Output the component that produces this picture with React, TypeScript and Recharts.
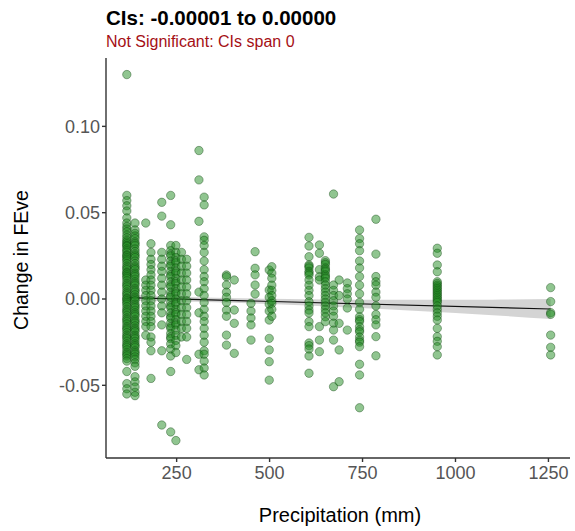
import React from 'react';
import { ComposedChart, Scatter, Line, Area, XAxis, YAxis } from 'recharts';

// precipitation sites (mm) and the FEve changes recorded at each
const col116 = [0.130, 0.060, 0.057, 0.054, 0.051, 0.047, 0.044, 0.042, 0.0405, 0.039, 0.037, 0.0355, 0.034, 0.033, 0.032, 0.031, 0.0305, 0.029, 0.028, 0.027, 0.0255, 0.025, 0.024, 0.023, 0.022, 0.0205, 0.019, 0.018, 0.017, 0.0155, 0.015, 0.014, 0.013, 0.012, 0.0105, 0.009, 0.008, 0.007, 0.0055, 0.004, 0.003, 0.002, 0.0005, 0.0, -0.001, -0.002, -0.003, -0.0045, -0.006, -0.007, -0.008, -0.0095, -0.011, -0.012, -0.013, -0.0145, -0.016, -0.017, -0.018, -0.0195, -0.021, -0.022, -0.023, -0.0245, -0.026, -0.027, -0.028, -0.0295, -0.031, -0.032, -0.033, -0.0345, -0.036, -0.042, -0.049, -0.052, -0.055];
const col138 = [0.044, 0.040, 0.038, 0.0365, 0.035, 0.033, 0.032, 0.031, 0.029, 0.0275, 0.026, 0.025, 0.024, 0.022, 0.0205, 0.019, 0.018, 0.017, 0.015, 0.014, 0.013, 0.0115, 0.010, 0.009, 0.008, 0.006, 0.005, 0.004, 0.0025, 0.001, 0.0, -0.001, -0.003, -0.004, -0.005, -0.0065, -0.008, -0.009, -0.010, -0.012, -0.013, -0.014, -0.0155, -0.017, -0.018, -0.019, -0.021, -0.022, -0.023, -0.0245, -0.026, -0.027, -0.028, -0.030, -0.031, -0.032, -0.0335, -0.035, -0.037, -0.039, -0.045, -0.048, -0.051, -0.054, -0.056];
const col167 = [0.044, 0.011, 0.008, 0.005, 0.002, -0.001, -0.004, -0.007, -0.010, -0.013, -0.016, -0.021];
const col181 = [0.032, 0.027, 0.023, 0.020, 0.017, 0.014, 0.011, 0.008, 0.005, 0.002, -0.001, -0.004, -0.007, -0.010, -0.013, -0.016, -0.022, -0.025, -0.030, -0.046];
const col210 = [0.056, 0.048, 0.027, 0.023, 0.019, 0.016, 0.012, 0.008, 0.004, 0.000, -0.004, -0.008, -0.015, -0.030, -0.073];
const col234 = [0.060, 0.043, 0.031, 0.028, 0.026, 0.025, 0.022, 0.020, 0.019, 0.016, 0.014, 0.013, 0.010, 0.008, 0.007, 0.004, 0.002, 0.001, -0.002, -0.004, -0.005, -0.008, -0.010, -0.011, -0.014, -0.016, -0.017, -0.020, -0.022, -0.023, -0.026, -0.029, -0.033, -0.042, -0.077];
const col248 = [0.031, 0.027, 0.024, 0.022, 0.021, 0.018, 0.016, 0.015, 0.012, 0.010, 0.009, 0.006, 0.004, 0.003, 0.000, -0.002, -0.003, -0.006, -0.008, -0.009, -0.012, -0.014, -0.015, -0.018, -0.021, -0.024, -0.027, -0.031, -0.082];
const col263 = [0.027, 0.023, 0.019, 0.015, 0.011, 0.007, 0.003, -0.001, -0.005, -0.009, -0.013, -0.017, -0.022];
const col277 = [0.023, 0.019, 0.015, 0.011, 0.007, 0.003, -0.001, -0.005, -0.009, -0.013, -0.017, -0.022, -0.035];
const col310 = [0.086, 0.069, 0.045, 0.004, -0.008, -0.032, -0.041];
const col324 = [0.059, 0.0545, 0.036, 0.034, 0.031, 0.027, 0.022, 0.017, 0.013, 0.010, 0.006, 0.002, -0.002, -0.006, -0.010, -0.013, -0.017, -0.021, -0.025, -0.030, -0.032, -0.036, -0.040, -0.044];
const col384 = [0.0139, 0.0129, 0.0081, 0.004, 0.001, -0.002, -0.0064, -0.010, -0.0209, -0.0267];
const col405 = [0.011, -0.0064, -0.0141, -0.0315];
const col450 = [-0.0025, -0.007, -0.011, -0.015, -0.0238];
const col461 = [0.0274, 0.0178, 0.014, 0.0081, 0.0029];
const col499 = [0.0168, 0.0052, 0.001, -0.003, -0.007, -0.0122, -0.0228, -0.0295, -0.0363, -0.047];
const col506 = [0.0187, 0.015, 0.012, 0.008, 0.005, 0.002, -0.001, -0.0025, -0.006, -0.010];
const col606 = [0.0357, 0.0307, 0.0245, 0.0197, 0.019, 0.018, 0.016, 0.015, 0.0139, 0.011, 0.008, 0.005, 0.002, -0.0016, -0.004, -0.0064, -0.0081, -0.0131, -0.016, -0.0255, -0.027, -0.029, -0.033, -0.043];
const col634 = [0.0313, 0.0265, 0.017, 0.0129, 0.011, -0.016, -0.0238, -0.0305];
const col650 = [0.0222, 0.021, 0.020, 0.018, 0.017, 0.016, 0.014, 0.013, 0.012, 0.010, 0.008, 0.006, 0.004, 0.002, 0.000, -0.002, -0.004, -0.006, -0.008, -0.0103, -0.0131];
const col672 = [0.0608, 0.0081, 0.005, 0.002, -0.001, -0.004, -0.007, -0.010, -0.014, -0.018, -0.0238, -0.0508];
const col687 = [0.011, 0.002, -0.0141, -0.0295, -0.0479];
const col709 = [0.0093, 0.006, 0.003, 0.000, -0.0052, -0.018];
const col742 = [0.040, 0.035, 0.032, 0.028, 0.022, 0.018, 0.013, 0.008, 0.003, -0.002, -0.006, -0.0103, -0.012, -0.013, -0.016, -0.018, -0.019, -0.022, -0.024, -0.025, -0.0276, -0.0378, -0.044, -0.063];
const col786 = [0.0462, 0.026, 0.013, 0.010, 0.008, 0.004, 0.001, -0.004, -0.009, -0.012, -0.015, -0.0218, -0.0329];
const col951 = [0.0294, 0.0265, 0.0197, 0.0158, 0.010, 0.009, 0.008, 0.007, 0.006, 0.005, 0.004, 0.003, 0.002, 0.001, 0.000, -0.001, -0.002, -0.004, -0.006, -0.008, -0.010, -0.0122, -0.017, -0.0218, -0.0245, -0.0276, -0.0324];
const col1256 = [0.0066, -0.0015, -0.0079, -0.0089, -0.0209, -0.028, -0.0324];

const sites: [number, number[]][] = [
  [116, col116], [138, col138], [167, col167], [181, col181], [210, col210],
  [234, col234], [248, col248], [263, col263], [277, col277], [310, col310],
  [324, col324], [384, col384], [405, col405], [450, col450], [461, col461],
  [499, col499], [506, col506], [606, col606], [634, col634], [650, col650],
  [672, col672], [687, col687], [709, col709], [742, col742], [786, col786],
  [951, col951], [1256, col1256],
];

// lm fit + 95% band
const fitX = [116, 1256];
const fitY = [0.0008, -0.0058];
const bandX = [116, 300, 500, 700, 900, 1100, 1256];
const bandLo = [-0.001, -0.0016, -0.0029, -0.0048, -0.0069, -0.0094, -0.0116];
const bandHi = [0.0026, 0.001, 0.0001, -0.0004, -0.0005, -0.0004, 0.0];

const xTicks = [250, 500, 750, 1000, 1250];
const yTicks = [-0.05, 0, 0.05, 0.1];

const points = sites.flatMap(([x, ys]) => ys.map((y) => ({ x, y })));
const fitData = fitX.map((x, i) => ({ x, fit: fitY[i] }));
const bandData = bandX.map((x, i) => ({ x, band: [bandLo[i], bandHi[i]] }));

const font = '"Liberation Sans", Arial, sans-serif';

export default function App() {
  return (
    <div style={{ position: 'absolute', left: 0, top: 0, width: 575, height: 531, background: '#fff', fontFamily: font }}>
      <ComposedChart width={575} height={531} margin={{ top: 58, right: 5, bottom: 0, left: 0 }}>
        <XAxis
          dataKey="x"
          type="number"
          domain={[60, 1308]}
          ticks={xTicks}
          allowDataOverflow
          height={73}
          tickSize={4}
          tickMargin={4}
          stroke="#333"
          strokeWidth={1.4}
          tick={{ fontSize: 18, fill: '#555', fontFamily: font }}
        />
        <YAxis
          type="number"
          domain={[-0.0921, 0.1396]}
          ticks={yTicks}
          allowDataOverflow
          width={106}
          tickSize={4}
          tickMargin={2}
          stroke="#333"
          strokeWidth={1.4}
          tickFormatter={(v: number) => v.toFixed(2)}
          tick={{ fontSize: 18, fill: '#555', fontFamily: font }}
        />
        <Scatter
          data={points}
          dataKey="y"
          fill="#228B22"
          shape={(p: any) => (
            <circle cx={p.cx} cy={p.cy} r={4.2} fill="#228B22" fillOpacity={0.5} stroke="#0b3d0b" strokeOpacity={0.65} strokeWidth={0.6} />
          )}
          isAnimationActive={false}
        />
        <Area
          data={bandData}
          dataKey="band"
          type="monotone"
          fill="#999999"
          fillOpacity={0.42}
          stroke="none"
          isAnimationActive={false}
        />
        <Line
          data={fitData}
          dataKey="fit"
          type="linear"
          stroke="#111"
          strokeWidth={1.1}
          dot={false}
          activeDot={false}
          isAnimationActive={false}
        />
      </ComposedChart>
      <svg width={575} height={531} style={{ position: 'absolute', left: 0, top: 0, pointerEvents: 'none' }}>
        <text x={106} y={25} fontSize={20.5} fontWeight="bold" fill="#000" fontFamily={font}>
          CIs: -0.00001 to 0.00000
        </text>
        <text x={106} y={47} fontSize={16} fill="#A50F15" fontFamily={font}>
          Not Significant: CIs span 0
        </text>
        <text x={340} y={522} fontSize={20} fill="#000" textAnchor="middle" fontFamily={font}>
          Precipitation (mm)
        </text>
        <text x={28} y={260} fontSize={19.5} fill="#000" textAnchor="middle" fontFamily={font} transform="rotate(-90 28 260)">
          Change in FEve
        </text>
      </svg>
    </div>
  );
}
